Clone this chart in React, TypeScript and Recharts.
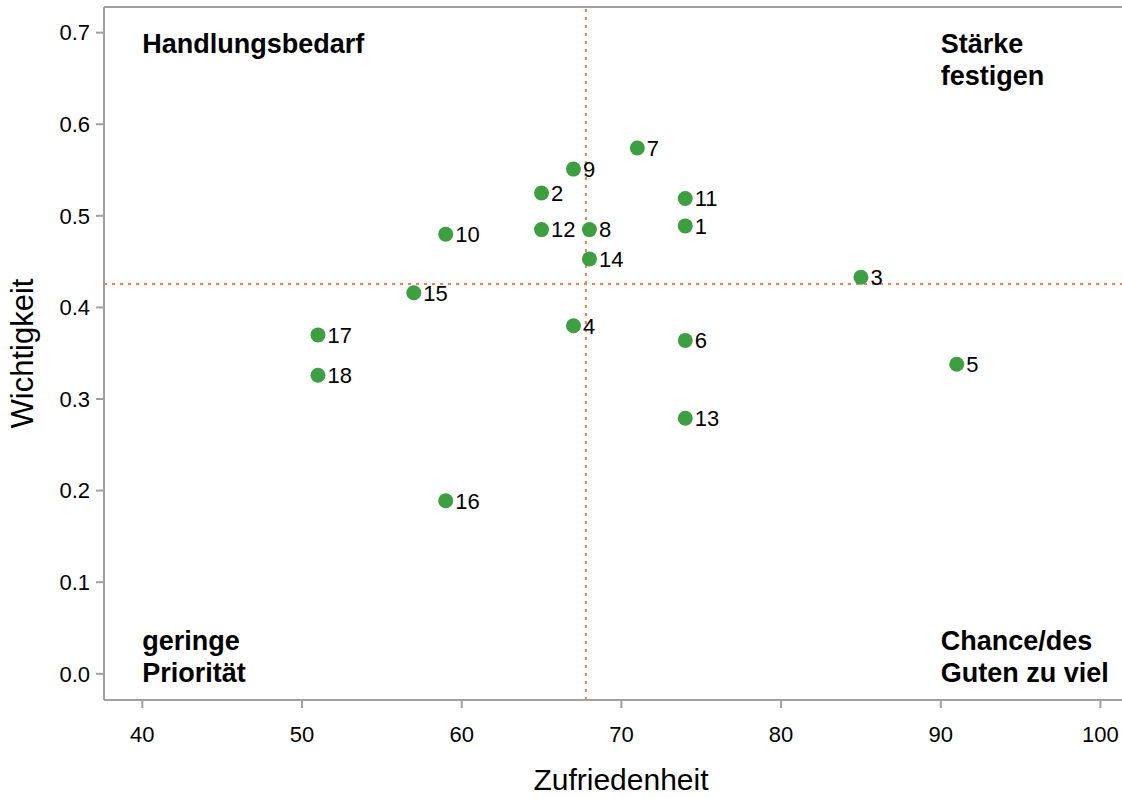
import React from "react";
import {
  ScatterChart,
  Scatter,
  XAxis,
  YAxis,
  ReferenceLine,
  ReferenceDot,
} from "recharts";

const ids = [1, 2, 3, 4, 5, 6, 7, 8, 9, 10, 11, 12, 13, 14, 15, 16, 17, 18];
const satisfaction = [74, 65, 85, 67, 91, 74, 71, 68, 67, 59, 74, 65, 74, 68, 57, 59, 51, 51];
const importance = [
  0.489, 0.525, 0.433, 0.380, 0.338, 0.364, 0.574, 0.485, 0.551, 0.480, 0.519, 0.485,
  0.279, 0.453, 0.416, 0.189, 0.370, 0.326,
];
const xTicks = [40, 50, 60, 70, 80, 90, 100];
const yTicks = [0, 0.1, 0.2, 0.3, 0.4, 0.5, 0.6, 0.7];
const meanSatisfaction = 67.78;
const meanImportance = 0.4255;
const quadrantTopLeft = ["Handlungsbedarf"];
const quadrantTopRight = ["Stärke", "festigen"];
const quadrantBottomLeft = ["geringe", "Priorität"];
const quadrantBottomRight = ["Chance/des", "Guten zu viel"];

const data = ids.map((id, i) => ({ id, x: satisfaction[i], y: importance[i] }));

const FONT = "'Liberation Sans', Arial, sans-serif";
const GREEN = "#3d9f41";
const ORANGE = "#fa7d4e";
const AXIS = "#a0a0a0";

const PointShape = (props: any) => {
  const { cx, cy, payload } = props;
  return (
    <g>
      <circle cx={cx} cy={cy} r={7.5} fill={GREEN} />
      <text
        x={cx + 9.5}
        y={cy}
        dy="0.355em"
        fontSize={22}
        fontFamily={FONT}
        fill="#000"
      >
        {payload.id}
      </text>
    </g>
  );
};

const makeQuadrantLabel = (lines: string[], firstDy: number) => (props: any) => {
  const { cx, cy } = props;
  return (
    <text x={cx} y={cy + firstDy} fontSize={27} fontWeight="bold" fontFamily={FONT} fill="#000">
      {lines.map((l, i) => (
        <tspan key={i} x={cx} dy={i === 0 ? 0 : 32}>
          {l}
        </tspan>
      ))}
    </text>
  );
};

const XTitle = (props: any) => {
  const vb = props.viewBox;
  return (
    <text
      x={vb.x + vb.width / 2 + 8}
      y={vb.y + 90}
      textAnchor="middle"
      fontSize={30}
      fontFamily={FONT}
      fill="#000"
    >
      Zufriedenheit
    </text>
  );
};

const YTitle = (props: any) => {
  const vb = props.viewBox;
  const cy = vb.y + vb.height / 2;
  return (
    <text
      x={33}
      y={cy}
      transform={`rotate(-90, 33, ${cy})`}
      textAnchor="middle"
      fontSize={31}
      fontFamily={FONT}
      fill="#000"
    >
      Wichtigkeit
    </text>
  );
};

export default function App() {
  return (
    <div style={{ position: "absolute", left: 0, top: 0, background: "#fff" }}>
      <ScatterChart
        width={1122}
        height={798}
        margin={{ top: 7, right: 0, left: 0, bottom: 0 }}
      >
        <XAxis
          type="number"
          dataKey="x"
          domain={[37.6, 101.35]}
          allowDataOverflow
          ticks={xTicks}
          height={98}
          axisLine={{ stroke: AXIS, strokeWidth: 2 }}
          tickLine={{ stroke: AXIS, strokeWidth: 2 }}
          tickSize={8}
          tickMargin={18}
          tick={{ fontSize: 22, fill: "#000", fontFamily: FONT }}
          label={XTitle}
        />
        <YAxis
          type="number"
          dataKey="y"
          domain={[-0.0286, 0.728]}
          allowDataOverflow
          ticks={yTicks}
          width={104}
          axisLine={{ stroke: AXIS, strokeWidth: 2 }}
          tickLine={{ stroke: AXIS, strokeWidth: 2 }}
          tickSize={8}
          tickMargin={6}
          tickFormatter={(v: number) => v.toFixed(1)}
          tick={{ fontSize: 22, fill: "#000", fontFamily: FONT }}
          label={YTitle}
        />
        <ReferenceLine y={0.728} stroke={AXIS} strokeWidth={2} ifOverflow="visible" />
        <ReferenceLine
          x={meanSatisfaction}
          stroke={ORANGE}
          strokeWidth={2}
          strokeDasharray="3 5"
        />
        <ReferenceLine
          y={meanImportance}
          stroke={ORANGE}
          strokeWidth={2}
          strokeDasharray="3 5"
        />
        <ReferenceDot x={40} y={0.7} r={0} shape={makeQuadrantLabel(quadrantTopLeft, 20)} />
        <ReferenceDot x={90} y={0.7} r={0} shape={makeQuadrantLabel(quadrantTopRight, 20)} />
        <ReferenceDot x={40} y={0} r={0} shape={makeQuadrantLabel(quadrantBottomLeft, -24)} />
        <ReferenceDot x={90} y={0} r={0} shape={makeQuadrantLabel(quadrantBottomRight, -24)} />
        <Scatter data={data} shape={PointShape} isAnimationActive={false} />
      </ScatterChart>
    </div>
  );
}
